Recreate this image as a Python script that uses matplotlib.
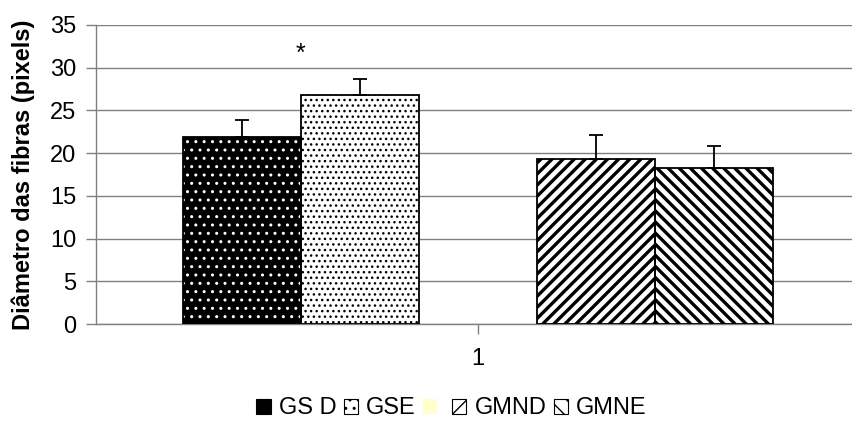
import matplotlib

matplotlib.use("Agg")
import matplotlib.pyplot as plt  # noqa: E402
from matplotlib.patches import Patch  # noqa: E402

# data
groups = ["GS D", "GSE", "", "GMND", "GMNE"]
means = [21.9, 26.8, 0.0, 19.3, 18.2]
errors = [2.0, 1.9, 0.0, 2.8, 2.6]
category_label = "1"
ylabel = "Diâmetro das fibras (pixels)"

plt.rcParams["font.family"] = ["Liberation Sans", "DejaVu Sans"]
plt.rcParams["hatch.linewidth"] = 1.0

faces = ["black", "white", "#ffffcc", "white", "white"]
hatches = ["..", "...", None, "///", "\\\\\\"]
hatch_colors = ["white", "black", None, "black", "black"]

fig = plt.figure(figsize=(8.52, 4.30), dpi=100)
ax = fig.add_axes([0.1127, 0.2465, 0.8873, 0.6955])

width = 0.156
xs = [(i - 2) * width for i in range(len(groups))]

for x, m, fc, h, hc in zip(xs, means, faces, hatches, hatch_colors):
    if m <= 0:
        continue
    if h is not None:
        plt.rcParams["hatch.linewidth"] = 2.4 if h[0] in ("/", "\\") else 1.0
        ax.bar(x, m, width, color=fc, hatch=h, edgecolor=hc, linewidth=0, zorder=3)
    ax.bar(x, m, width, fill=False, edgecolor="black", linewidth=1.3, zorder=4)

for x, m, e in zip(xs, means, errors):
    if m <= 0:
        continue
    ax.errorbar(x, m, yerr=[[0], [e]], fmt="none", ecolor="black",
                elinewidth=1.3, capsize=5, capthick=1.3, zorder=5)

ax.text((xs[0] + xs[1]) / 2, 31.6, "*", ha="center", va="center", fontsize=18)

ax.set_xlim(-0.505, 0.495)
ax.set_ylim(0, 35)
ax.set_yticks(range(0, 36, 5))
ax.set_xticks([0])
ax.set_xticklabels([category_label])
ax.grid(axis="y", color="#808080", linewidth=1.0, zorder=0)
ax.set_axisbelow(True)
for side in ("top", "right"):
    ax.spines[side].set_visible(False)
for side in ("left", "bottom"):
    ax.spines[side].set_color("#808080")
    ax.spines[side].set_linewidth(1.0)
ax.tick_params(axis="both", colors="#808080", labelcolor="black",
               labelsize=17, length=7, width=1.0)
ax.tick_params(axis="y", pad=7)
ax.tick_params(axis="x", pad=10)
ax.set_ylabel(ylabel, fontsize=17, fontweight="bold", labelpad=11)

plt.rcParams["hatch.linewidth"] = 1.0
handles = []
for fc, h, hc in zip(faces, hatches, hatch_colors):
    if h is None:
        handles.append(Patch(facecolor=fc, edgecolor="none"))
    else:
        handles.append(Patch(facecolor=fc, hatch=h[:2], edgecolor="black", linewidth=0.8))
fig.legend(handles, groups, loc="center", bbox_to_anchor=(0.53, 0.05), ncol=5,
           frameon=False, fontsize=17, handlelength=0.6, handleheight=0.6,
           handletextpad=0.35, columnspacing=0.3)

fig.savefig("out.png", dpi=100)
